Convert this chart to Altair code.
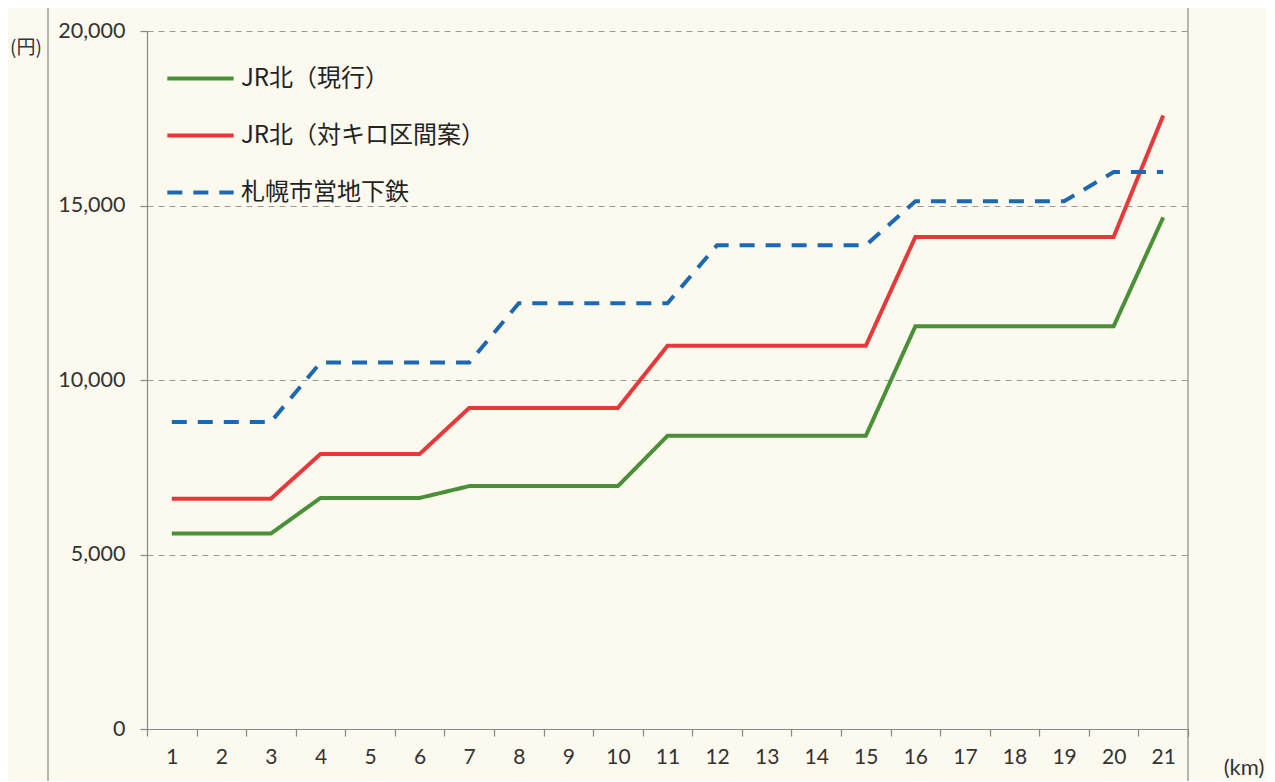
import altair as alt
import pandas as pd

km = list(range(1, 22))
jr_current = [5600, 5600, 5600, 6620, 6620, 6620, 6960, 6960, 6960, 6960,
              8400, 8400, 8400, 8400, 8400, 11540, 11540, 11540, 11540, 11540, 14660]
jr_proposal = [6600, 6600, 6600, 7880, 7880, 7880, 9200, 9200, 9200, 9200,
               10980, 10980, 10980, 10980, 10980, 14100, 14100, 14100, 14100, 14100, 17580]
subway = [8800, 8800, 8800, 10500, 10500, 10500, 10500, 12200, 12200, 12200,
          12200, 13860, 13860, 13860, 13860, 15120, 15120, 15120, 15120, 15960, 15960]

series_names = ["JR北（現行）", "JR北（対キロ区間案）", "札幌市営地下鉄"]
series_colors = ["#4a9038", "#e8383a", "#1d68b2"]
y_ticks = [0, 5000, 10000, 15000, 20000]

rows = []
for name, vals in zip(series_names, [jr_current, jr_proposal, subway]):
    for k, v in zip(km, vals):
        rows.append({"km": k, "yen": v, "series": name})
df = pd.DataFrame(rows)

W, H = 1041, 698
BG = "#fcf9ef"
AXIS_FONT = "Lato"
JP_FONT = "Noto Sans CJK JP"

x_enc = alt.X("km:O", scale=alt.Scale(type="band", paddingInner=0, paddingOuter=0),
              axis=alt.Axis(title=None, labelAngle=0, tickBand="extent", labelFont=AXIS_FONT,
                            labelFontSize=21, labelColor="#333", labelPadding=10,
                            tickSize=7, tickColor="#888", domainColor="#888", tickWidth=1.2,
                            domainWidth=1.2, grid=False))
y_enc = alt.Y("yen:Q", scale=alt.Scale(domain=[0, 20000], nice=False),
              axis=alt.Axis(title=None, values=y_ticks, format=",d", labelFont=AXIS_FONT,
                            labelFontSize=21.5, labelColor="#333", labelPadding=15,
                            tickSize=7, tickColor="#888", domainColor="#888", tickWidth=1.2,
                            domainWidth=1.2, grid=True, gridColor="#999", gridDash=[6, 5],
                            gridWidth=1.2))

lines = alt.Chart(df).mark_line(strokeWidth=4, strokeJoin="miter").encode(
    x=x_enc,
    y=y_enc,
    color=alt.Color("series:N", sort=series_names,
                    scale=alt.Scale(domain=series_names, range=series_colors),
                    legend=alt.Legend(title=None, orient="none", legendX=18, legendY=12,
                                      symbolType="stroke", symbolSize=4400, symbolStrokeWidth=4,
                                      labelFont=JP_FONT, labelFontSize=24, labelColor="#222",
                                      rowPadding=9, labelOffset=5, symbolOffset=0,
                                      labelLimit=400)),
    strokeDash=alt.StrokeDash("series:N", sort=series_names,
                              scale=alt.Scale(domain=series_names,
                                              range=[[1, 0], [1, 0], [15, 11]]),
                              legend=None),
)

frame = pd.DataFrame({"k": [0]})
top_rule = alt.Chart(frame).mark_rule(color="#888", strokeWidth=1.2).encode(
    x=alt.value(-99), x2=alt.value(W), y=alt.value(-26))
left_rule = alt.Chart(frame).mark_rule(color="#888", strokeWidth=1.2).encode(
    x=alt.value(-99), y=alt.value(-26), y2=alt.value(H + 60))
right_rule = alt.Chart(frame).mark_rule(color="#888", strokeWidth=1.2).encode(
    x=alt.value(W), y=alt.value(-26), y2=alt.value(H + 60))

yen_label = alt.Chart(frame).mark_text(text="(円)", font=JP_FONT, fontSize=19,
                                       color="#333", align="center", baseline="middle").encode(
    x=alt.value(-121), y=alt.value(17))
km_label = alt.Chart(frame).mark_text(text="(km)", font=AXIS_FONT, fontSize=22,
                                      color="#333", align="center", baseline="middle").encode(
    x=alt.value(1097), y=alt.value(737))

chart = alt.layer(lines, top_rule, left_rule, right_rule, yen_label, km_label).properties(
    width=W, height=H, background=BG,
    padding={"left": 139, "top": 23, "right": 79, "bottom": 52},
    autosize=alt.AutoSizeParams(type="none"),
).configure_view(stroke=None)

chart.save("out.html", embed_options={"renderer": "svg", "actions": False})
